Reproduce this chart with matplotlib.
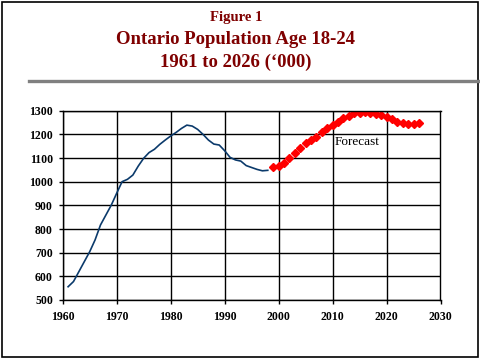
import matplotlib
matplotlib.use("Agg")
import matplotlib.pyplot as plt
from matplotlib.patches import Rectangle
from matplotlib.lines import Line2D

# actual population, thousands
hist_years = list(range(1961, 1999))
hist_pop = [556, 578, 620, 662, 704, 754, 817, 859, 901, 951,
            1000, 1010, 1028, 1066, 1099, 1123, 1137, 1158, 1176, 1193,
            1208, 1225, 1239, 1235, 1221, 1200, 1176, 1159, 1155, 1131,
            1103, 1092, 1087, 1068, 1060, 1052, 1046, 1048]

# forecast
fc_years = list(range(1999, 2027))
fc_pop = [1061, 1066, 1080, 1099, 1120, 1141, 1162, 1176, 1190, 1208,
          1225, 1240, 1251, 1268, 1279, 1289, 1292, 1294, 1292, 1286,
          1282, 1275, 1263, 1254, 1246, 1244, 1244, 1246]

title_lines = ["Figure 1", "Ontario Population Age 18-24", "1961 to 2026 (\u2018000)"]
dark_red = "#7f0000"

W, H = 481, 360
fig = plt.figure(figsize=(W / 100, H / 100), dpi=100)
fig.patch.set_facecolor("white")

# outer frame
fig.patches.append(Rectangle((2 / W, 3 / H), 476 / W, 355 / H, transform=fig.transFigure,
                             fill=False, edgecolor="black", linewidth=1.2))

# titles
serif = ["Liberation Serif", "DejaVu Serif"]
fig.text(236 / W, 1 - 17 / H, title_lines[0], ha="center", va="center",
         fontsize=10.5, fontweight="bold", color=dark_red, family=serif)
fig.text(236 / W, 1 - 40 / H, title_lines[1], ha="center", va="center",
         fontsize=13.5, fontweight="bold", color=dark_red, family=serif)
fig.text(236 / W, 1 - 62 / H, title_lines[2], ha="center", va="center",
         fontsize=13.5, fontweight="bold", color=dark_red, family=serif)

# gray rule under title
fig.lines.append(Line2D([29 / W, 1.0], [1 - 80.5 / H, 1 - 80.5 / H], transform=fig.transFigure,
                        color="#808080", linewidth=2.4))

ax = fig.add_axes([62.7 / W, 1 - 300 / H, (440.5 - 62.7) / W, (300 - 110.7) / H])
ax.plot(hist_years, hist_pop, color="#0b3a6b", linewidth=1.2)
ax.plot(fc_years, fc_pop, linestyle="none", marker="D", markersize=4.3,
        color="#ff0000", markeredgecolor="#ff0000")

ax.set_xlim(1960, 2030)
ax.set_ylim(500, 1300)
ax.set_xticks(range(1960, 2031, 10))
ax.set_yticks(range(500, 1301, 100))
ax.grid(True, color="black", linewidth=1)
ax.set_axisbelow(True)
for s in ax.spines.values():
    s.set_linewidth(1)
ax.tick_params(direction="out", length=3, width=1, pad=4, labelsize=8.5)
for lab in ax.get_xticklabels() + ax.get_yticklabels():
    lab.set_fontweight("bold")
    lab.set_family(serif)
ax.tick_params(axis="x", pad=5)

ax.text(2010.4, 1168, "Forecast", fontsize=9.5, family=serif, va="center", ha="left")

fig.savefig("out.png", dpi=100)
